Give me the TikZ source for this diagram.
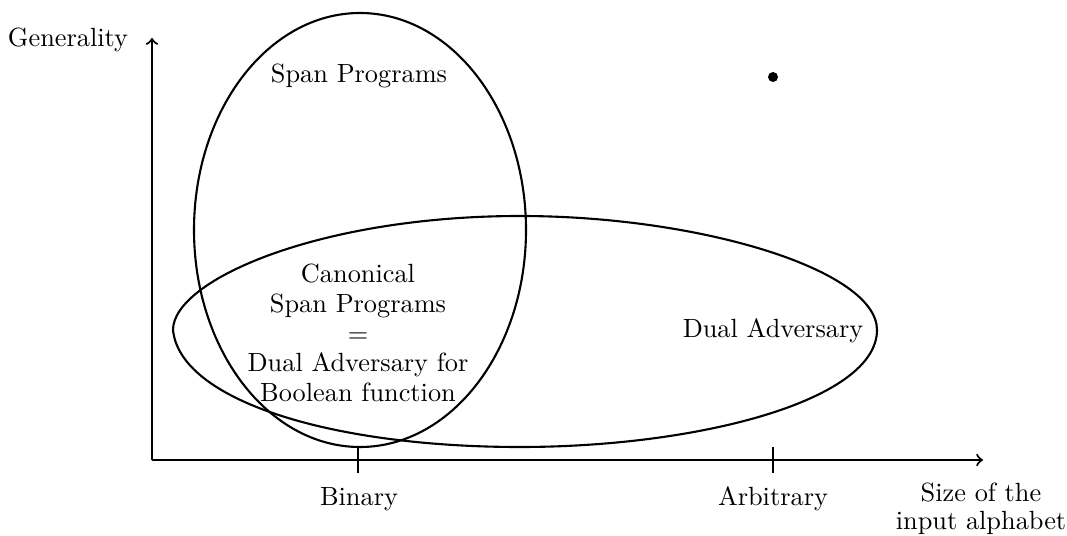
\documentclass[tikz,border=0pt]{standalone}
\usetikzlibrary{arrows}

\begin{document}
\begin{tikzpicture}[x=0.38pt,y=0.38pt,yscale=-1,xscale=1,line width=0.8pt]
\useasboundingbox (0,0) rectangle (1067,536);

%Coordinates of the axes
\coordinate (origin) at (152,460);
\coordinate (ytop) at (152,38);
\coordinate (xend) at (983,460);
\coordinate (binlo) at (358,447);
\coordinate (binhi) at (358,473);
\coordinate (arblo) at (773,447);
\coordinate (arbhi) at (773,473);

%Straight Lines [id:axes]
\draw [->]   (origin) -- (ytop) ;
\draw [->]   (origin) -- (xend) ;
%Straight Lines [id:ticks]
\draw    (binlo) -- (binhi) ;
\draw    (arblo) -- (arbhi) ;

%Shape: Ellipse [id:span]
\draw   (360,230) ellipse [x radius=166, y radius=217] ;
%Shape: Polygon Curved [id:dualadv]
\draw   (173,330) .. controls (173,280) and (320,216) .. (520,216) .. controls (700,216) and (877,270) .. (877,330) .. controls (877,400) and (700,447) .. (520,447) .. controls (330,447) and (180,400) .. (173,330) -- cycle ;

%Shape: Circle [id:dot]
\fill   (773,77) circle [radius=5] ;

% Text Node
\draw (68,47) node [anchor=base] (gen) {Generality};
% Text Node
\draw (359,83) node [anchor=base] (span) {Span Programs};
% Text Node
\draw (358,333) node [align=center,font=\fontsize{10}{11.3}\selectfont] (canon) {Canonical\\Span Programs\\$=$\\Dual Adversary for\\Boolean function};
% Text Node
\draw (773,338) node [anchor=base] (dual) {Dual Adversary};
% Text Node
\draw (359,505) node [anchor=base] (bin) {Binary};
% Text Node
\draw (773,505) node [anchor=base] (arb) {Arbitrary};
% Text Node
\draw (981,529) node [anchor=base,align=center,font=\fontsize{10}{10.4}\selectfont] (size) {Size of the\\input alphabet};
\end{tikzpicture}
\end{document}
